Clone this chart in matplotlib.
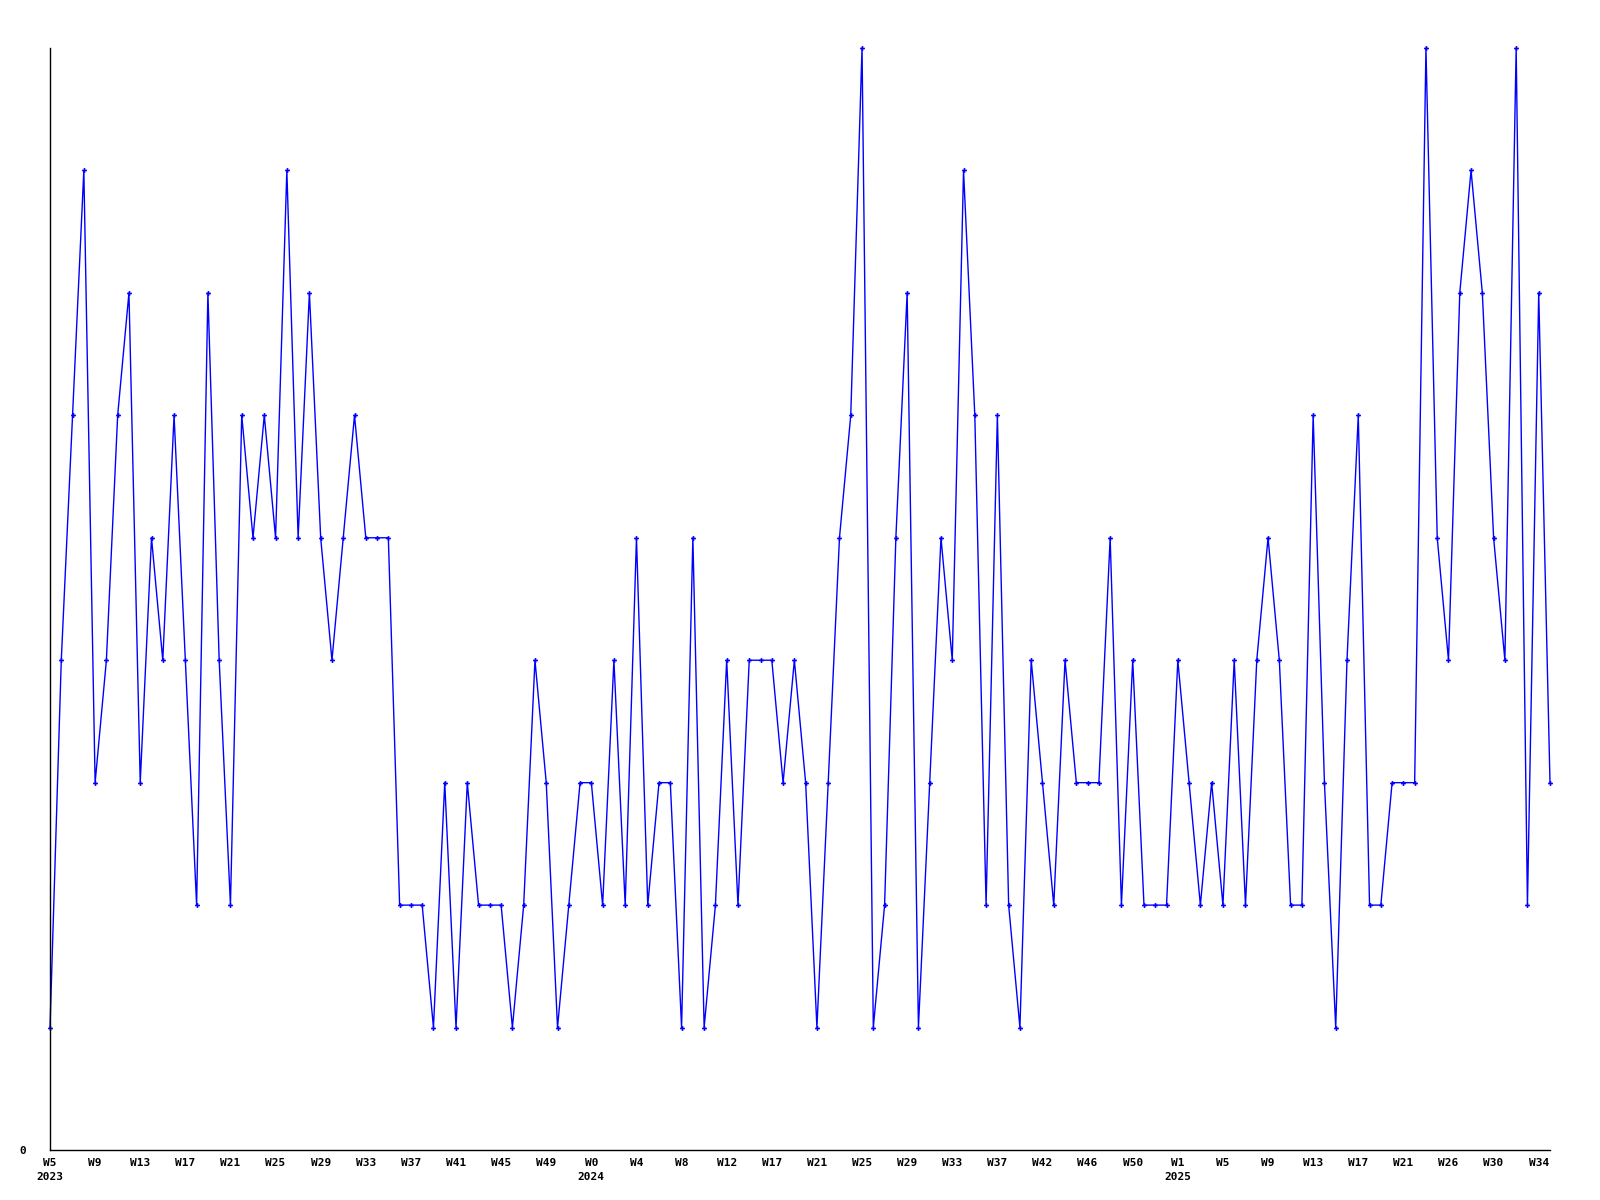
import matplotlib
matplotlib.use('Agg')
import matplotlib.pyplot as plt
import numpy as np

# weekly counts, 2023 W5 .. 2025 W35
values = [1, 4, 6, 8, 3, 4, 6, 7, 3, 5, 4, 6, 4, 2, 7, 4, 2, 6, 5, 6,
          5, 8, 5, 7, 5, 4, 5, 6, 5, 5, 5, 2, 2, 2, 1, 3, 1, 3, 2, 2,
          2, 1, 2, 4, 3, 1, 2, 3, 3, 2, 4, 2, 5, 2, 3, 3, 1, 5, 1, 2,
          4, 2, 4, 4, 4, 3, 4, 3, 1, 3, 5, 6, 9, 1, 2, 5, 7, 1, 3, 5,
          4, 8, 6, 2, 6, 2, 1, 4, 3, 2, 4, 3, 3, 3, 5, 2, 4, 2, 2, 2,
          4, 3, 2, 3, 2, 4, 2, 4, 5, 4, 2, 2, 6, 3, 1, 4, 6, 2, 2, 3,
          3, 3, 9, 5, 4, 7, 8, 7, 5, 4, 9, 2, 7, 3]

tick_labels = ['W5\n2023', 'W9', 'W13', 'W17', 'W21', 'W25', 'W29', 'W33',
               'W37', 'W41', 'W45', 'W49', 'W0\n2024', 'W4', 'W8', 'W12',
               'W17', 'W21', 'W25', 'W29', 'W33', 'W37', 'W42', 'W46',
               'W50', 'W1\n2025', 'W5', 'W9', 'W13', 'W17', 'W21', 'W26',
               'W30', 'W34']
tick_step = 4

x = np.arange(len(values))

fig = plt.figure(figsize=(16, 12), dpi=100)
ax = fig.add_axes([50 / 1600, 50 / 1200, 1500 / 1600, 1102 / 1200])

ax.plot(x, values, color='#0000ff', linewidth=1, marker='P',
        markersize=3.5, markeredgewidth=0, clip_on=False)

ax.set_xlim(0, len(values) - 1)
ax.set_ylim(0, max(values))

ax.set_xticks(x[::tick_step][:len(tick_labels)])
ax.set_xticklabels(tick_labels, family='DejaVu Sans Mono', weight='bold',
                   fontsize=8, linespacing=1.5)
ax.set_yticks([0])
ax.set_yticklabels(['0'], family='DejaVu Sans Mono', weight='bold', fontsize=8)
ax.tick_params(axis='x', length=0, pad=6)
ax.tick_params(axis='y', length=0, pad=17)

for s in ['top', 'right']:
    ax.spines[s].set_visible(False)
for s in ['left', 'bottom']:
    ax.spines[s].set_linewidth(1)
    ax.spines[s].set_color('black')

fig.savefig('out.png', dpi=100)
